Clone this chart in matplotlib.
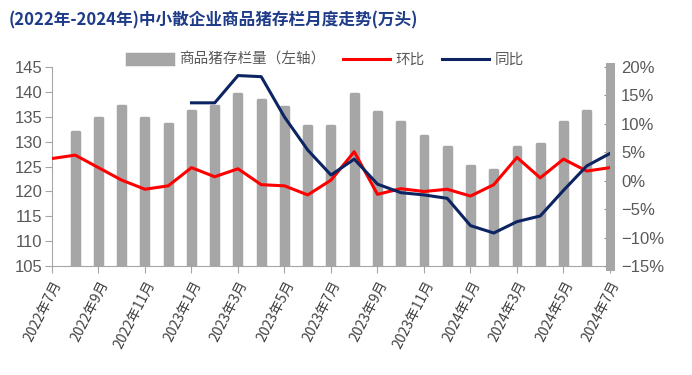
import matplotlib
matplotlib.use("Agg")
import matplotlib.pyplot as plt
from matplotlib.ticker import FuncFormatter

plt.rcParams['font.family'] = ['Liberation Sans', 'Noto Sans CJK SC', 'DejaVu Sans']

# months from 2022-07 to 2024-07
months = ['2022年7月', '2022年8月', '2022年9月', '2022年10月', '2022年11月', '2022年12月',
          '2023年1月', '2023年2月', '2023年3月', '2023年4月', '2023年5月', '2023年6月',
          '2023年7月', '2023年8月', '2023年9月', '2023年10月', '2023年11月', '2023年12月',
          '2024年1月', '2024年2月', '2024年3月', '2024年4月', '2024年5月', '2024年6月',
          '2024年7月']

# stock (10k head), 2022-08 .. 2024-06
stock = [132.0, 134.8, 137.2, 134.8, 133.5, 136.2, 137.1, 139.6, 138.4, 136.9,
         133.1, 133.1, 139.6, 136.0, 134.0, 131.2, 129.0, 125.1, 124.3, 129.0,
         129.5, 134.0, 136.1]

# month-on-month change (%), 2022-07 .. 2024-07
mom = [3.9, 4.5, 2.3, 0.1, -1.5, -0.9, 2.3, 0.7, 2.1, -0.7, -0.9, -2.5, 0.1,
       5.1, -2.4, -1.4, -1.9, -1.5, -2.7, -0.7, 4.1, 0.5, 3.8, 1.7, 2.3]

# year-on-year change (%), 2023-01 .. 2024-07
yoy = [13.7, 13.7, 18.5, 18.3, 11.2, 5.4, 1.0, 3.8, -0.6, -2.1, -2.5, -3.1,
       -7.9, -9.2, -7.2, -6.2, -1.7, 2.6, 4.8]

tick_labels = months[::2]

GRAY = '#A6A6A6'
TXT = '#595959'
RED = '#FF0000'
NAVY = '#0C2461'
CJK = ['Noto Sans CJK SC', 'DejaVu Sans']

fig = plt.figure(figsize=(6.92, 3.75), dpi=100)
ax = fig.add_axes([0.0751, 0.2907, 0.8064, 0.5306])
ax2 = ax.twinx()

bar_x = list(range(1, 1 + len(stock)))
ax.bar(bar_x, [v - 105 for v in stock], bottom=105, width=0.3,
       color=GRAY, edgecolor=GRAY, linewidth=2.5, joinstyle='round',
       label='商品猪存栏量（左轴）', zorder=2)

mom_x = list(range(len(mom)))
yoy_x = list(range(len(months) - len(yoy), len(months)))
ax2.plot(mom_x, mom, color=RED, lw=2.2, label='环比', zorder=3)
ax2.plot(yoy_x, yoy, color=NAVY, lw=2.2, label='同比', zorder=3)

ax.set_xlim(0, len(months) - 1)
ax.set_ylim(105, 145)
ax.set_yticks(range(105, 146, 5))
ax2.set_ylim(-15, 20)
ax2.set_yticks(range(-15, 21, 5))
ax2.yaxis.set_major_formatter(FuncFormatter(lambda v, p: f"{v:.0f}%".replace('-', '\u2212')))

ax.tick_params(axis='y', colors=GRAY, labelcolor=TXT, labelsize=12, length=5, pad=2)
ax.tick_params(axis='x', colors=GRAY, labelcolor='#404040', length=5, pad=4)
ax2.tick_params(axis='y', colors='#8C8C8C', labelcolor=TXT, labelsize=12,
                length=4, direction='in', pad=8)

ax.set_xticks(range(0, len(months), 2))
ax.set_xticklabels(tick_labels, rotation=63, ha='right', va='top',
                   rotation_mode='anchor', fontsize=10, color='#404040', family=CJK)

for a in (ax, ax2):
    a.spines['top'].set_visible(False)
ax.spines['right'].set_visible(False)
ax.spines['left'].set_color(GRAY)
ax.spines['bottom'].set_color(GRAY)
ax2.spines['left'].set_visible(False)
ax2.spines['bottom'].set_visible(False)
ax2.spines['right'].set_color(GRAY)
ax2.spines['right'].set_linewidth(6.5)

h1, l1 = ax.get_legend_handles_labels()
h2, l2 = ax2.get_legend_handles_labels()
fig.legend(h1 + h2, l1 + l2, ncol=3, loc='center', bbox_to_anchor=(0.47, 0.84),
           frameon=False, labelcolor=TXT, handlelength=3.2,
           columnspacing=1.2, handletextpad=0.4,
           prop={'family': CJK, 'size': 10.5})

fig.text(0.012, 0.945, '(2022年-2024年)中小散企业商品猪存栏月度走势(万头)',
         fontsize=12, fontweight='bold', color='#1F3C88', va='center', family=CJK)

fig.savefig('out.png', dpi=100)
